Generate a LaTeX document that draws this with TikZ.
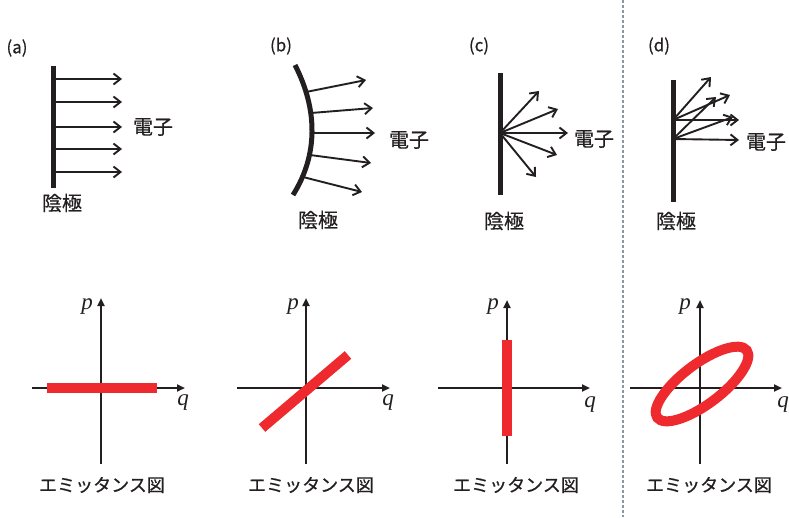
\documentclass[tikz,border=0pt]{standalone}
\usepackage{fontspec}
\newfontfamily\jpfont[FakeBold=0.6]{Noto Sans CJK JP}
\newfontfamily\letterfont{Liberation Serif}
\usepackage{xcolor}
\usepackage{tikz}
\usetikzlibrary{arrows.meta}
\definecolor{inkblack}{HTML}{231F20}
\definecolor{emitred}{HTML}{EE2A2F}
\definecolor{dashgray}{HTML}{8C96A2}

\begin{document}
\begin{tikzpicture}[
		x=1pt,y=-1pt,
		line cap=butt,
		cathode/.style={draw=inkblack, line width=5pt},
		beam/.style={draw=inkblack, line width=1.9pt, -{Straight Barb[length=7pt,width=11pt]}},
		axis/.style={draw=inkblack, line width=2pt, -{Triangle[length=8pt,width=7pt]}},
		emit/.style={draw=emitred, line width=10pt},
		tag/.style={font=\jpfont\fontsize{17}{20}\selectfont, text=inkblack, inner sep=0pt},
		jplabel/.style={font=\jpfont\fontsize{20}{24}\selectfont, text=inkblack, inner sep=0pt},
		diaglabel/.style={font=\jpfont\fontsize{18}{22}\selectfont, text=inkblack, inner sep=0pt},
		axlabel/.style={font=\letterfont\itshape\fontsize{23}{26}\selectfont, text=inkblack, inner sep=0pt},
		divider/.style={draw=dashgray, line width=1.5pt, dash pattern=on 3pt off 2pt}
	]
	
	\useasboundingbox (0,0) rectangle (789,517);
	
	% Panel (a): flat cathode, parallel beam
	\node[tag] (taga) at (17,48) {(a)};
	\draw[cathode] (53,66) -- (53,188);
	\draw[beam] (53,79) -- (122,79);
	\draw[beam] (53,102) -- (122,102);
	\draw[beam] (53,127) -- (122,127);
	\draw[beam] (53,149) -- (122,149);
	\draw[beam] (53,172) -- (122,172);
	\node[jplabel] (eleca) at (153,127) {電子};
	\node[jplabel] (catha) at (62,203) {陰極};
	
	% Panel (b): curved cathode, diverging beam
	\node[tag] (tagb) at (281,46) {(b)};
	\draw[cathode] (295,65) .. controls (318,110) and (318,155) .. (293,195);
	\draw[beam] (306,92) -- (366,80);
	\draw[beam] (311,113) -- (373,108);
	\draw[beam] (312,133) -- (375,133);
	\draw[beam] (310,155) -- (371,163);
	\draw[beam] (303,177) -- (362,192);
	\node[jplabel] (elecb) at (409,140) {電子};
	\node[jplabel] (cathb) at (318,220) {陰極};
	
	% Panel (c): point source
	\node[tag] (tagc) at (479,46) {(c)};
	\draw[cathode] (500,73) -- (500,195);
	\coordinate (srcc) at (500,133);
	\draw[beam] (srcc) -- (539,91);
	\draw[beam] (srcc) -- (558,109);
	\draw[beam] (srcc) -- (568,133);
	\draw[beam] (srcc) -- (557,155);
	\draw[beam] (srcc) -- (536,177);
	\node[jplabel] (elecc) at (594,139) {電子};
	\node[jplabel] (cathc) at (504,221) {陰極};
	
	% Divider
	\draw[divider] (623,0) -- (623,517);
	
	% Panel (d): two sources
	\node[tag] (tagd) at (659,46) {(d)};
	\draw[cathode] (673,80) -- (673,202);
	\coordinate (srcd1) at (673,120);
	\coordinate (srcd2) at (673,139);
	\draw[beam] (srcd1) -- (711,77);
	\draw[beam] (srcd1) -- (730,95);
	\draw[beam] (srcd1) -- (739,120);
	\draw[beam] (srcd2) -- (716,97);
	\draw[beam] (srcd2) -- (733,117);
	\draw[beam] (srcd2) -- (739,140);
	\node[jplabel] (elecd) at (766,142) {電子};
	\node[jplabel] (cathd) at (676,221) {陰極};
	
	% Emittance diagrams
	\draw[axis] (101,464) -- (101,298);
	\draw[axis] (32,388) -- (185,388);
	\draw[emit] (47,388) -- (157,388);
	\node[axlabel] (pa) at (87,307) {p};
	\node[axlabel] (qa) at (183,403) {q};
	\node[diaglabel] (emita) at (102,485) {エミッタンス図};
	
	\draw[axis] (306,464) -- (306,298);
	\draw[axis] (237,388) -- (390,388);
	\draw[emit] (262,428) -- (348,355);
	\node[axlabel] (pb) at (293,307) {p};
	\node[axlabel] (qb) at (388,403) {q};
	\node[diaglabel] (emitb) at (311,485) {エミッタンス図};
	
	\draw[axis] (507,464) -- (507,300);
	\draw[axis] (438,388) -- (590,388);
	\draw[emit] (507,340) -- (507,436);
	\node[axlabel] (pc) at (493,307) {p};
	\node[axlabel] (qc) at (590,405) {q};
	\node[diaglabel] (emitc) at (516,485) {エミッタンス図};
	
	\draw[axis] (700,464) -- (700,300);
	\draw[axis] (630,388) -- (782,388);
	\draw[emit, rotate around={37:(702,384)}] (702,384) ellipse [x radius=56, y radius=20];
	\node[axlabel] (pd) at (685,307) {p};
	\node[axlabel] (qd) at (783,405) {q};
	\node[diaglabel] (emitd) at (709,485) {エミッタンス図};
	
\end{tikzpicture}
\end{document}
